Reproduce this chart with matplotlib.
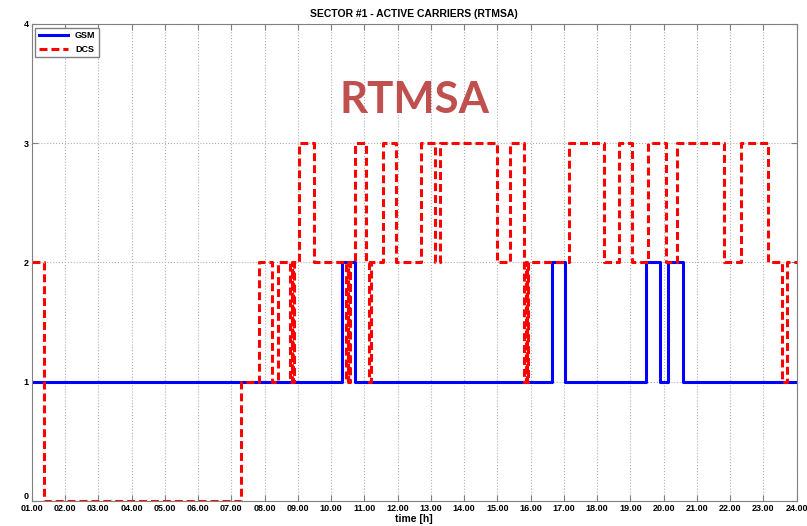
import matplotlib.pyplot as plt

# step data (hour, value after the step)
gsm_t = [1.0, 10.33, 10.73, 16.63, 17.03, 19.47, 19.89, 20.14, 20.57, 24.0]
gsm_v = [1, 2, 1, 2, 1, 2, 1, 2, 1, 1]

dcs_t = [1.0, 1.38, 7.29, 7.83, 8.23, 8.39, 8.78, 8.83, 8.85, 8.88,
         9.05, 9.49, 10.46, 10.50, 10.53, 10.56, 10.71, 11.04, 11.14, 11.21,
         11.56, 11.96, 12.71, 13.11, 13.28, 14.98, 15.39, 15.81, 15.86, 15.88,
         15.91, 17.16, 18.21, 18.65, 19.05, 19.54, 20.07, 20.39, 21.80, 22.31,
         23.15, 23.55, 23.72, 24.0]
dcs_v = [2, 0, 1, 2, 1, 2, 1, 2, 1, 2,
         3, 2, 1, 2, 1, 2, 3, 2, 1, 2,
         3, 2, 3, 2, 3, 2, 3, 1, 2, 1,
         2, 3, 2, 3, 2, 3, 2, 3, 2, 3,
         2, 1, 2, 2]

hours = list(range(1, 25))
hour_labels = ["%02d.00" % h for h in hours]

plt.rcParams['font.family'] = ['Liberation Sans', 'DejaVu Sans']

fig = plt.figure(figsize=(8.07, 5.26), dpi=100)
ax = fig.add_axes([0.0393, 0.0475, 0.948, 0.907])

ax.plot(gsm_t, gsm_v, drawstyle="steps-post", color="#0000ff", lw=2.2, label="GSM")
ax.plot(dcs_t, dcs_v, drawstyle="steps-post", color="#ff0000", lw=2.2,
        linestyle=(0, (2.6, 1.3)), label="DCS")

ax.set_xlim(1, 24)
ax.set_ylim(0, 4)
ax.set_xticks(hours)
ax.set_xticklabels(hour_labels, fontsize=6.5, fontweight="bold")
ax.set_yticks([0, 1, 2, 3, 4])
ylabs = ax.set_yticklabels(["0", "1", "2", "3", "4"], fontsize=6.5, fontweight="bold",
                           va="center_baseline")
ylabs[0].set_va("bottom")  # keep "0" clear of "01.00"
ax.tick_params(direction="in", top=True, right=True, length=4, color="#808080", pad=2)
ax.grid(True, linestyle=":", color="#b0b0b0", lw=0.8)
for s in ax.spines.values():
    s.set_color("#808080")

ax.set_xlabel("time [h]", fontsize=7.5, fontweight="bold", labelpad=1)
ax.set_title("SECTOR #1 - ACTIVE CARRIERS (RTMSA)", fontsize=7.5, fontweight="bold", pad=5)

leg = ax.legend(loc="upper left", prop={"weight": "bold", "size": 6.5},
                fancybox=False, edgecolor="#808080", handlelength=3.2,
                borderaxespad=0.4, framealpha=1)

ax.text(0.5, 0.84, "RTMSA", transform=ax.transAxes, ha="center", va="center",
        fontsize=31.5, fontweight="bold", color="#c0504d", family="Lato")

plt.savefig("out.png", dpi=100)
